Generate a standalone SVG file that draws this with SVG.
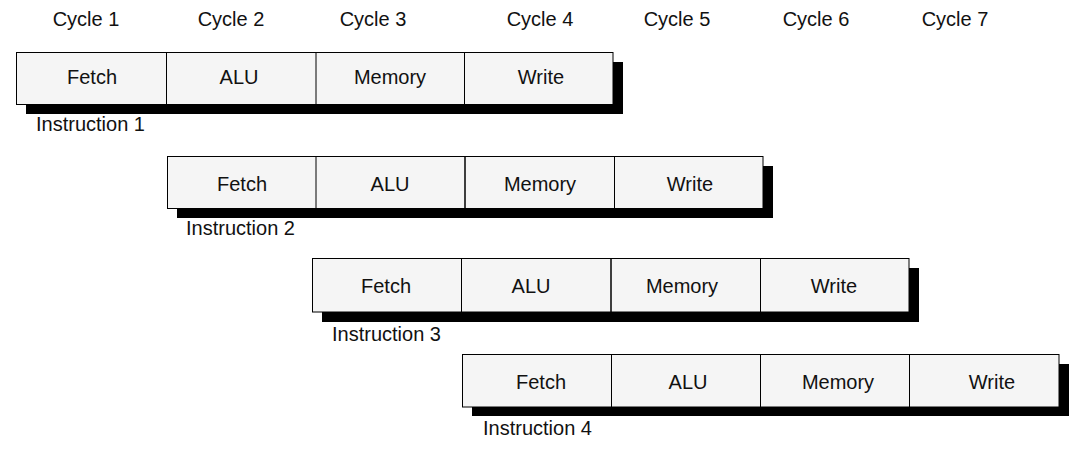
<svg xmlns="http://www.w3.org/2000/svg" width="1088" height="459" viewBox="0 0 1088 459">
<style>
text{font-family:"Liberation Sans",Arial,sans-serif;font-size:20px;fill:#111}
.c{text-anchor:middle}
.box{fill:#f5f5f5;stroke:#000;stroke-width:1}
.sh{fill:#000}
.div{stroke:#000;stroke-width:1}
</style>
<rect width="1088" height="459" fill="#fff"/>
<g id="headers">
<text class="c" x="86" y="26">Cycle 1</text>
<text class="c" x="231" y="26">Cycle 2</text>
<text class="c" x="373" y="26">Cycle 3</text>
<text class="c" x="540" y="26">Cycle 4</text>
<text class="c" x="677" y="26">Cycle 5</text>
<text class="c" x="816" y="26">Cycle 6</text>
<text class="c" x="955" y="26">Cycle 7</text>
</g>
<g id="instruction1">
<rect class="sh" x="26" y="62" width="597" height="52"/>
<rect class="box" x="16.5" y="52.5" width="596.5" height="52"/>
<line class="div" x1="166.5" y1="52.5" x2="166.5" y2="104.5"/>
<line class="div" x1="316" y1="52.5" x2="316" y2="104.5"/>
<line class="div" x1="464.5" y1="52.5" x2="464.5" y2="104.5"/>
<text class="c" x="92" y="84">Fetch</text>
<text class="c" x="239" y="84">ALU</text>
<text class="c" x="390" y="84">Memory</text>
<text class="c" x="541" y="84">Write</text>
<text x="36" y="131">Instruction 1</text>
</g>
<g id="instruction2">
<rect class="sh" x="177" y="166" width="596" height="52"/>
<rect class="box" x="167.5" y="156.5" width="595.5" height="52"/>
<line class="div" x1="316" y1="156.5" x2="316" y2="208.5"/>
<line class="div" x1="465" y1="156.5" x2="465" y2="208.5" style="stroke-width:1.5"/>
<line class="div" x1="614.5" y1="156.5" x2="614.5" y2="208.5"/>
<text class="c" x="242" y="191">Fetch</text>
<text class="c" x="390" y="191">ALU</text>
<text class="c" x="540" y="191">Memory</text>
<text class="c" x="690" y="191">Write</text>
<text x="186" y="235">Instruction 2</text>
</g>
<g id="instruction3">
<rect class="sh" x="322" y="268" width="597" height="54"/>
<rect class="box" x="312.5" y="258.5" width="596.5" height="53.5"/>
<line class="div" x1="461.5" y1="258.5" x2="461.5" y2="312"/>
<line class="div" x1="611" y1="258.5" x2="611" y2="312" style="stroke-width:1.5"/>
<line class="div" x1="760.5" y1="258.5" x2="760.5" y2="312"/>
<text class="c" x="386" y="293">Fetch</text>
<text class="c" x="531" y="293">ALU</text>
<text class="c" x="682" y="293">Memory</text>
<text class="c" x="834" y="293">Write</text>
<text x="332" y="341">Instruction 3</text>
</g>
<g id="instruction4">
<rect class="sh" x="472" y="364" width="597" height="52"/>
<rect class="box" x="462.5" y="354.5" width="596.5" height="52.5"/>
<line class="div" x1="611.5" y1="354.5" x2="611.5" y2="407"/>
<line class="div" x1="760.5" y1="354.5" x2="760.5" y2="407"/>
<line class="div" x1="909.5" y1="354.5" x2="909.5" y2="407"/>
<text class="c" x="541" y="389">Fetch</text>
<text class="c" x="688" y="389">ALU</text>
<text class="c" x="838" y="389">Memory</text>
<text class="c" x="992" y="389">Write</text>
<text x="483" y="435">Instruction 4</text>
</g>
<g id="connectors"></g>
</svg>
